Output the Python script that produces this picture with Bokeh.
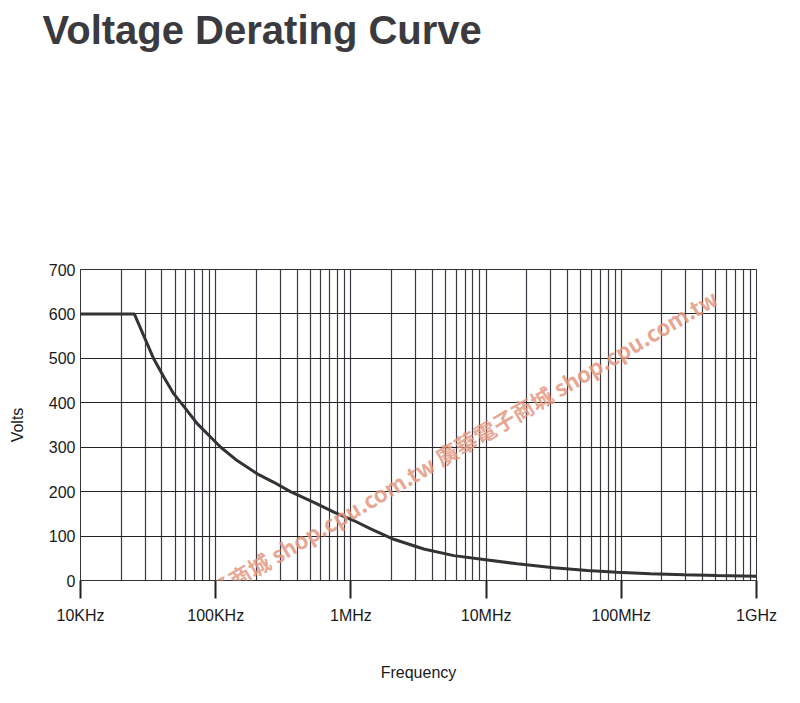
from bokeh.plotting import figure
from bokeh.models import FixedTicker, Label, Range1d, Title
from bokeh.embed import file_html
from bokeh.resources import INLINE

# ---- data ----
freq = [1.0e4, 2.5e4, 3.48e4, 4.13e4, 4.9e4, 5.81e4, 7.3e4, 9.16e4, 1.09e5, 1.44e5,
        2.03e5, 2.69e5, 3.57e5, 5.32e5, 7.48e5, 1.05e6, 1.4e6, 2.02e6, 3.46e6,
        5.77e6, 9.6e6, 1.7e7, 3.17e7, 5.6e7, 9.3e7, 1.64e8, 2.9e8, 5.11e8, 1.0e9]
volts = [600, 600, 499, 458, 420, 392, 353, 323, 300, 270,
         240, 221, 200, 176, 154, 135, 116, 94, 71,
         56, 47.5, 37.5, 28.5, 22.5, 18.7, 15, 12.8, 11.3, 9.8]
x_ticks = [1e4, 1e5, 1e6, 1e7, 1e8, 1e9]
x_tick_labels = ["10KHz", "100KHz", "1MHz", "10MHz", "100MHz", "1GHz"]
y_ticks = [0, 100, 200, 300, 400, 500, 600, 700]
title_text = "Voltage Derating Curve"
watermark = "廣華電子商城 shop.cpu.com.tw 廣華電子商城 shop.cpu.com.tw"

FONT = "Liberation Sans"

p = figure(width=796, height=700, x_axis_type="log",
           x_range=Range1d(1e4, 1e9), y_range=Range1d(0, 700),
           output_backend="svg", toolbar_location=None,
           min_border_left=80, min_border_right=40,
           min_border_top=269, min_border_bottom=120)
p.background_fill_color = "white"
p.border_fill_color = "white"
p.outline_line_color = "#333333"
p.outline_line_width = 1

# title (outermost in the top panel)
p.title.text = title_text
p.title.align = "left"
p.title.vertical_align = "bottom"
p.title.offset = -38
p.title.standoff = 0
p.title.text_font = FONT
p.title.text_font_size = "40px"
p.title.text_font_style = "bold"
p.title.text_color = "#3b3b3f"

# blank gap between title and plot frame
p.add_layout(Title(text=" ", text_font_size="1px", standoff=215), "above")

# vertical grid: every 1..9 x decade
vgrid = []
for d in range(4, 9):
    for m in range(1, 10):
        vgrid.append(m * 10 ** d)
vgrid.append(1e9)
p.xgrid.ticker = FixedTicker(ticks=vgrid)
p.xgrid.grid_line_color = "#3a3a44"
p.xgrid.grid_line_width = 1.2
p.ygrid.ticker = FixedTicker(ticks=y_ticks)
p.ygrid.grid_line_color = "#222222"
p.ygrid.grid_line_width = 1.2

# x axis
xa = p.xaxis[0]
xa.ticker = FixedTicker(ticks=x_ticks, minor_ticks=[])
xa.major_label_overrides = {t_: l for t_, l in zip(x_ticks, x_tick_labels)}
xa.major_tick_out = 18
xa.major_tick_in = 0
xa.major_tick_line_width = 2
xa.major_tick_line_color = "#222222"
xa.minor_tick_line_color = None
xa.axis_line_color = "#333333"
xa.axis_line_width = 1
xa.major_label_text_font = FONT
xa.major_label_text_font_size = "16px"
xa.major_label_text_color = "#1a1a1a"
xa.major_label_standoff = 8
xa.axis_label = "Frequency"
xa.axis_label_text_font = FONT
xa.axis_label_text_font_size = "16px"
xa.axis_label_text_font_style = "normal"
xa.axis_label_text_color = "#1a1a1a"
xa.axis_label_standoff = 37

# y axis
ya = p.yaxis[0]
ya.ticker = FixedTicker(ticks=y_ticks, minor_ticks=[])
ya.major_tick_out = 0
ya.major_tick_in = 0
ya.minor_tick_line_color = None
ya.axis_line_color = "#333333"
ya.major_label_text_font = FONT
ya.major_label_text_font_size = "16px"
ya.major_label_text_color = "#1a1a1a"
ya.major_label_standoff = 5
ya.axis_label = "Volts"
ya.axis_label_text_font = FONT
ya.axis_label_text_font_size = "16px"
ya.axis_label_text_font_style = "normal"
ya.axis_label_text_color = "#1a1a1a"
ya.axis_label_standoff = 20

# curve
p.line(freq, volts, line_color="#333333", line_width=3)

# watermark
p.add_layout(Label(x=3.5e4, y=-101, text=watermark, angle=30.5, angle_units="deg",
                   text_font="Noto Sans CJK TC", text_font_size="22px",
                   text_font_style="bold", text_color="#e3977f", text_alpha=0.85,
                   text_baseline="alphabetic", text_align="left"))

open("out.html", "w").write(file_html(p, INLINE))
